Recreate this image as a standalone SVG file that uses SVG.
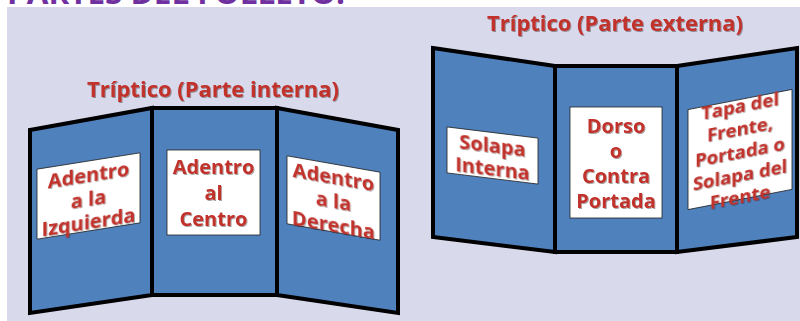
<svg xmlns="http://www.w3.org/2000/svg" width="800" height="321" viewBox="0 0 800 321">
<defs>
<filter id="sh" x="-10%" y="-10%" width="130%" height="130%">
<feDropShadow dx="1" dy="1" stdDeviation="0.6" flood-color="#000" flood-opacity="0.35"/>
</filter>
<style>
.bg{fill:#d9d9ec}
.panel{fill:#4f81bd;stroke:#000;stroke-width:4;stroke-linejoin:miter}
.card{fill:#fff;stroke:#222;stroke-width:0.8}
.lbl{font-family:"Open Sans","Liberation Sans",sans-serif;font-weight:bold;font-size:20px;fill:#c0302b;text-anchor:middle;filter:url(#sh)}
.ttl{font-family:"Open Sans","Liberation Sans",sans-serif;font-weight:bold;font-size:22px;fill:#c0302b;text-anchor:middle;filter:url(#sh)}
.head{font-family:"Open Sans","Liberation Sans",sans-serif;font-weight:bold;font-size:30px;fill:#7030a0}
</style>
</defs>
<rect x="0" y="0" width="800" height="321" fill="#fff"/>
<text class="head" x="7" y="4" textLength="338" lengthAdjust="spacingAndGlyphs">PARTES DEL FOLLETO:</text>
<rect class="bg" x="7" y="7" width="793" height="314"/>

<g id="titulo-interna"><text class="ttl" x="213" y="97" textLength="252" lengthAdjust="spacingAndGlyphs">Tríptico (Parte interna)</text></g>
<g id="titulo-externa"><text class="ttl" x="615" y="31" textLength="256" lengthAdjust="spacingAndGlyphs">Tríptico (Parte externa)</text></g>

<g id="interna-izquierda">
<polygon class="panel" points="30,130 152,108 152,295 30,313"/>
<g transform="translate(88.5,196) skewY(-9)">
<rect class="card" x="-51.5" y="-35" width="103" height="70"/>
<text class="lbl" x="0" y="-14">Adentro</text>
<text class="lbl" x="0" y="10">a la</text>
<text class="lbl" x="0" y="33">Izquierda</text>
</g>
</g>
<g id="interna-centro">
<polygon class="panel" points="152,108 277,108 277,295 152,295"/>
<rect class="card" x="167" y="150" width="93" height="85"/>
<text class="lbl" x="213.5" y="174">Adentro</text>
<text class="lbl" x="213.5" y="200">al</text>
<text class="lbl" x="213.5" y="226">Centro</text>
</g>
<g id="interna-derecha">
<polygon class="panel" points="277,108 398,130 398,313 277,295"/>
<g transform="translate(333.5,198) skewY(10)">
<rect class="card" x="-46.5" y="-34" width="93" height="68"/>
<text class="lbl" x="0" y="-14">Adentro</text>
<text class="lbl" x="0" y="10">a la</text>
<text class="lbl" x="0" y="34">Derecha</text>
</g>
</g>

<g id="externa-solapa">
<polygon class="panel" points="433,48 555,66 555,252 433,237"/>
<g transform="translate(492.5,155.5) skewY(7)">
<rect class="card" x="-45.5" y="-23" width="91" height="46"/>
<text class="lbl" x="0" y="-3">Solapa</text>
<text class="lbl" x="0" y="20">Interna</text>
</g>
</g>
<g id="externa-dorso">
<polygon class="panel" points="555,66 677,66 677,252 555,252"/>
<rect class="card" x="570" y="107" width="92" height="111"/>
<text class="lbl" x="616" y="133">Dorso</text>
<text class="lbl" x="616" y="158">o</text>
<text class="lbl" x="616" y="183">Contra</text>
<text class="lbl" x="616" y="208">Portada</text>
</g>
<g id="externa-tapa">
<polygon class="panel" points="677,66 797,48 797,237 677,252"/>
<g transform="translate(740,149.5) skewY(-11)">
<rect class="card" x="-52" y="-50" width="104" height="100"/>
<text class="lbl" style="font-size:18.5px" x="0" y="-37">Tapa del</text>
<text class="lbl" style="font-size:18.5px" x="0" y="-14">Frente,</text>
<text class="lbl" style="font-size:18.5px" x="0" y="9">Portada o</text>
<text class="lbl" style="font-size:18.5px" x="0" y="32">Solapa del</text>
<text class="lbl" style="font-size:18.5px" x="0" y="54">Frente</text>
</g>
</g>
</svg>
